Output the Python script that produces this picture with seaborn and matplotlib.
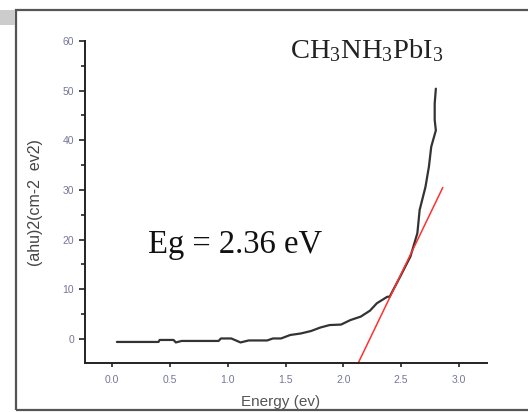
import pandas as pd
import seaborn as sns
import matplotlib.pyplot as plt
from matplotlib.patches import Rectangle
from matplotlib.ticker import MultipleLocator

#dane
energy = [0.04, 0.40, 0.41, 0.53, 0.55, 0.60, 0.92, 0.94, 1.03, 1.11, 1.18, 1.34,
          1.39, 1.46, 1.54, 1.63, 1.72, 1.80, 1.88, 1.98, 2.06, 2.15, 2.23, 2.29,
          2.38, 2.40, 2.49, 2.58, 2.64, 2.66, 2.71, 2.74, 2.76, 2.80, 2.79, 2.79, 2.80]
absorb = [-0.6, -0.6, -0.2, -0.2, -0.7, -0.4, -0.4, 0.1, 0.1, -0.7, -0.3, -0.3,
          0.1, 0.1, 0.8, 1.1, 1.6, 2.3, 2.8, 2.9, 3.8, 4.5, 5.7, 7.2,
          8.5, 8.5, 12.5, 16.6, 21.3, 26.0, 30.6, 34.7, 38.7, 42.0, 44.1, 47.4, 50.4]

#prosta styczna (ekstrapolacja)
fit_x = [2.127, 2.86]
fit_y = [-4.9, 30.5]

x_ticks = [0.0, 0.5, 1.0, 1.5, 2.0, 2.5, 3.0]
y_ticks = [0, 10, 20, 30, 40, 50, 60]

data = pd.DataFrame({'Energy': energy, 'Abs': absorb})
fit = pd.DataFrame({'Energy': fit_x, 'Abs': fit_y})

sns.set_theme(style="ticks")
plt.rcParams['font.family'] = ['Liberation Sans', 'DejaVu Sans']

fig = plt.figure(figsize=(5.28, 4.12), dpi=100)
ax = fig.add_axes([85/528, 1-363.3/412, (486.7-85)/528, (363.3-41)/412])

sns.lineplot(data=data, x='Energy', y='Abs', ax=ax, sort=False, estimator=None,
             color='#333333', linewidth=1.6)
sns.lineplot(data=fit, x='Energy', y='Abs', ax=ax, sort=False, estimator=None,
             color='#ff3030', linewidth=1.1)

ax.set_xlim(-0.236, 3.24)
ax.set_ylim(-4.9, 60)
ax.set_xticks(x_ticks)
ax.set_xticklabels([f"{t:.1f}" for t in x_ticks])
ax.set_yticks(y_ticks)
ax.yaxis.set_minor_locator(MultipleLocator(5))
sns.despine(ax=ax)
for s in ['left', 'bottom']:
    ax.spines[s].set_linewidth(1.4)
    ax.spines[s].set_color('#222222')

ax.tick_params(axis='both', which='major', labelsize=7.5, labelcolor='#76769a',
               color='#222222', width=1.2)
ax.tick_params(axis='y', which='major', length=4.5, pad=3.5)
ax.tick_params(axis='y', which='minor', length=3, width=1.2, color='#222222')
ax.tick_params(axis='x', which='major', length=3, pad=5.5)

ax.set_xlabel('Energy (ev)', fontsize=11, color='#555555')
ax.set_ylabel('(ahu)2(cm-2  ev2)', fontsize=11.5, color='#444444')
ax.xaxis.set_label_coords(0.488, -0.098)
ax.yaxis.set_label_coords(-0.105, 0.5)

fig.text(290/528, 1-58/412, r'$\mathregular{CH_3NH_3PbI_3}$', fontsize=20.5,
         family=['Liberation Serif'], color='#222222', ha='left', va='baseline')
fig.text(148/528, 1-253/412, 'Eg = 2.36 eV', fontsize=23.5,
         family=['Liberation Serif'], color='#111111', ha='left', va='baseline')

#ramka wokol obrazka
fig.add_artist(Rectangle((16/528, 2.5/412), 0.99, 399.5/412, transform=fig.transFigure,
                         fill=False, edgecolor='#555555', linewidth=1.6, clip_on=False))
fig.add_artist(Rectangle((0, 1-25/412), 15/528, 15/412, transform=fig.transFigure,
                         facecolor='#cccccc', edgecolor='none', clip_on=False))

plt.savefig('out.png', dpi=100)
plt.close()
